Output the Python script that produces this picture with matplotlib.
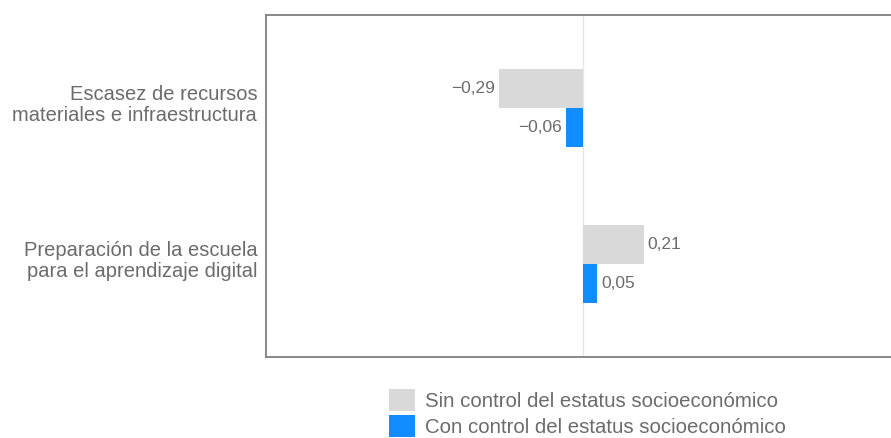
import matplotlib
matplotlib.use("Agg")
import matplotlib.pyplot as plt
from matplotlib.patches import Patch
from matplotlib.transforms import ScaledTranslation
import numpy as np

categories = ["Escasez de recursos\nmateriales e infraestructura",
              "Preparación de la escuela\npara el aprendizaje digital"]
sin_control = [-0.29, 0.21]
con_control = [-0.06, 0.05]
series_names = ["Sin control del estatus socioeconómico",
                "Con control del estatus socioeconómico"]

GRAY = "#d9d9d9"
BLUE = "#118dff"
TEXT = "#6b6b6b"

plt.rcParams["font.family"] = ["Liberation Sans", "DejaVu Sans"]

W, H = 891, 438
fig = plt.figure(figsize=(W / 100, H / 100), dpi=100)
# axes runs past the right edge of the picture, like in the reference
left, zero, top, bottom = 265.5, 583, 14.5, 357
right = zero + (zero - left)
ax = fig.add_axes([left / W, 1 - bottom / H, (right - left) / W, (bottom - top) / H])

y = np.arange(len(categories))
h = 0.25
b1 = ax.barh(y - h / 2, sin_control, height=h, color=GRAY)
b2 = ax.barh(y + h / 2, con_control, height=h, color=BLUE)

ax.set_xlim(-1.1, 1.1)
ax.set_ylim(1.6, -0.6)
ax.axvline(0, color="#e6e6e6", lw=1, zorder=0)

for bars in (b1, b2):
    for bar in bars:
        v = bar.get_width()
        yc = bar.get_y() + bar.get_height() / 2
        txt = f"{v:.2f}".replace(".", ",").replace("-", "\u2212")
        ax.annotate(txt, (v, yc), xytext=(4 if v >= 0 else -4, 0),
                    textcoords="offset pixels",
                    ha="left" if v >= 0 else "right", va="center",
                    fontsize=12.5, color=TEXT)

ax.set_yticks(y)
ax.set_yticklabels(categories, fontsize=14.5, color=TEXT, linespacing=1.15)
ax.tick_params(axis="y", length=0, pad=6)
ax.set_xticks([])
shift = ScaledTranslation(0, 6 / 100, fig.dpi_scale_trans)
for lab in ax.get_yticklabels():
    lab.set_transform(lab.get_transform() + shift)

for s in ["left", "top", "bottom", "right"]:
    ax.spines[s].set_color("#7f7f7f")
    ax.spines[s].set_linewidth(1.3)

handles = [Patch(facecolor=GRAY), Patch(facecolor=BLUE)]
fig.legend(handles, series_names, loc="upper left",
           bbox_to_anchor=(389 / W, 1 - 389 / H), frameon=False,
           fontsize=14.7, labelcolor=TEXT, handlelength=1.25, handleheight=1.25,
           handletextpad=0.5, labelspacing=0.22, borderpad=0, borderaxespad=0)

fig.savefig("out.png", dpi=100)
